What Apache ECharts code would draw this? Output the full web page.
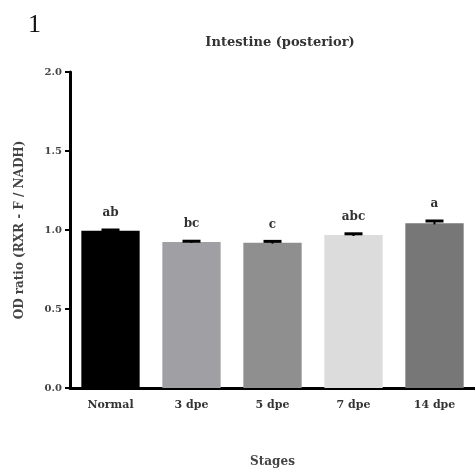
<!DOCTYPE html>
<html><head><meta charset="utf-8">
<script src="https://cdn.jsdelivr.net/npm/echarts@6/dist/echarts.min.js"></script>
<style>html,body{margin:0;padding:0;background:#fff}#c{width:475px;height:474px}</style>
</head><body><div id="c"></div>
<script>
const categories = ['Normal', '3 dpe', '5 dpe', '7 dpe', '14 dpe'];
const values = [0.995, 0.924, 0.92, 0.968, 1.042];
const errors = [0.005, 0.005, 0.008, 0.008, 0.015];
const letters = ['ab', 'bc', 'c', 'abc', 'a'];
const colors = ['#000000', '#a0a0a4', '#8f8f8f', '#dcdcdc', '#777777'];
const yTicks = [0, 0.5, 1.0, 1.5, 2.0];

const FONT = '"DejaVu Serif", serif';
const chart = echarts.init(document.getElementById('c'));
chart.setOption({
  animation: false,
  backgroundColor: '#fff',
  title: [
    {text: 'Intestine (posterior)', left: 275, top: 31, textAlign: 'center',
     textStyle: {fontFamily: FONT, fontSize: 13, fontWeight: 'bold', color: '#333'}},
    {text: '1', left: 23, top: 7,
     textStyle: {fontFamily: '"Liberation Serif", serif', fontSize: 26, fontWeight: 'normal', color: '#111'}}
  ],
  grid: {left: 70, right: -5, top: 72, bottom: 86},
  xAxis: {
    type: 'category', data: categories,
    name: 'Stages', nameLocation: 'middle', nameGap: 68,
    nameTextStyle: {fontFamily: FONT, fontSize: 12, fontWeight: 'bold', color: '#444'},
    axisLine: {lineStyle: {color: '#000', width: 3}},
    axisTick: {alignWithLabel: true, length: 5, lineStyle: {width: 2, color: '#000'}},
    axisLabel: {fontFamily: FONT, fontSize: 11, fontWeight: 'bold', color: '#333', margin: 12}
  },
  yAxis: {
    type: 'value', min: 0, max: 2, interval: 0.5,
    name: 'OD ratio (RXR - F / NADH)', nameLocation: 'middle', nameGap: 44,
    nameTextStyle: {fontFamily: FONT, fontSize: 12, fontWeight: 'bold', color: '#444'},
    axisLine: {show: true, lineStyle: {color: '#000', width: 3}},
    axisTick: {show: true, length: 5, lineStyle: {width: 2, color: '#000'}},
    splitLine: {show: false},
    axisLabel: {fontFamily: FONT, fontSize: 10, fontWeight: 'bold', color: '#444', margin: 8,
      formatter: v => yTicks.includes(v) ? v.toFixed(1) : ''}
  },
  series: [
    {type: 'bar', barWidth: '72%',
     data: values.map((v, i) => ({value: v, itemStyle: {color: colors[i]}}))},
    {type: 'custom', z: 5,
     data: values.map((v, i) => [i, v, errors[i]]),
     renderItem: function (params, api) {
       const i = api.value(0), v = api.value(1), e = api.value(2);
       const top = api.coord([i, v + e]);
       const mid = api.coord([i, v]);
       const hw = 9;
       return {type: 'group', children: [
         {type: 'line', shape: {x1: top[0], y1: top[1], x2: top[0], y2: mid[1] + 1}, style: {stroke: '#000', lineWidth: 2}},
         {type: 'line', shape: {x1: top[0] - hw, y1: top[1], x2: top[0] + hw, y2: top[1]}, style: {stroke: '#000', lineWidth: 3}},
         {type: 'text', x: top[0], y: top[1] - 11,
          style: {text: letters[params.dataIndex], fontFamily: FONT, fontSize: 12, fontWeight: 'bold', fill: '#333', align: 'center', verticalAlign: 'bottom'}}
       ]};
     }}
  ]
});
</script></body></html>
